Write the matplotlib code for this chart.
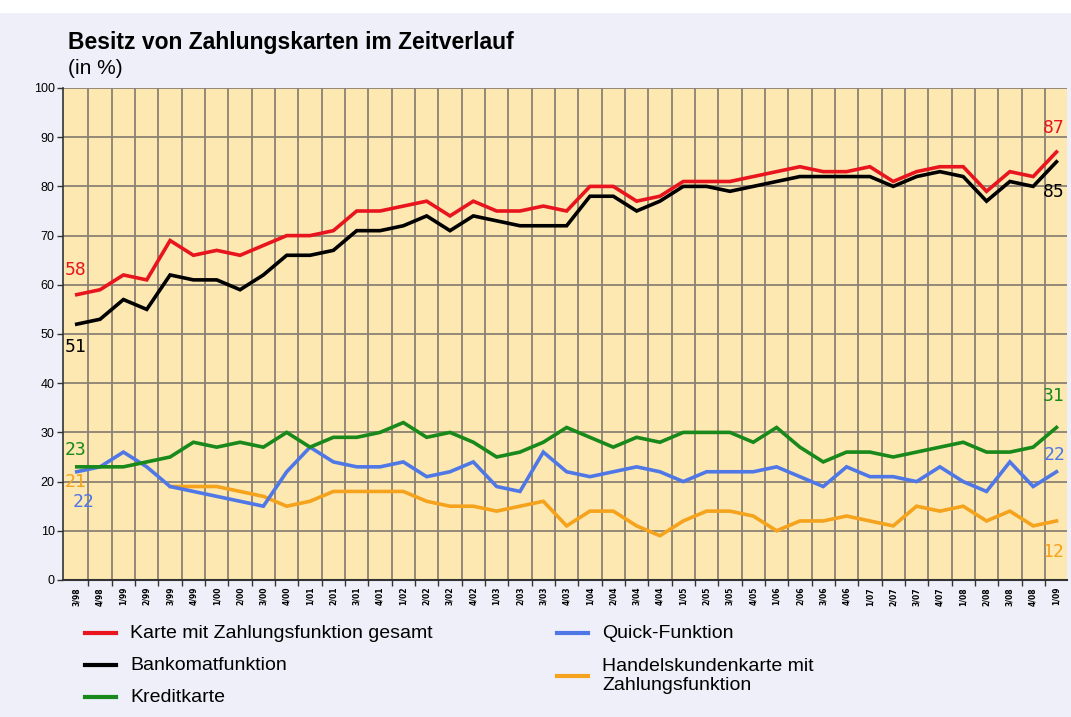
import matplotlib
matplotlib.use("Agg")
import matplotlib.pyplot as plt
import numpy as np
from matplotlib.lines import Line2D
from matplotlib.patches import Rectangle

quarters = ["3/98", "4/98", "1/99", "2/99", "3/99", "4/99", "1/00", "2/00", "3/00", "4/00",
            "1/01", "2/01", "3/01", "4/01", "1/02", "2/02", "3/02", "4/02", "1/03", "2/03",
            "3/03", "4/03", "1/04", "2/04", "3/04", "4/04", "1/05", "2/05", "3/05", "4/05",
            "1/06", "2/06", "3/06", "4/06", "1/07", "2/07", "3/07", "4/07", "1/08", "2/08",
            "3/08", "4/08", "1/09"]

karte_gesamt = [58, 59, 62, 61, 69, 66, 67, 66, 68, 70, 70, 71, 75, 75, 76, 77, 74, 77, 75, 75,
                76, 75, 80, 80, 77, 78, 81, 81, 81, 82, 83, 84, 83, 83, 84, 81, 83, 84, 84, 79,
                83, 82, 87]
bankomat = [52, 53, 57, 55, 62, 61, 61, 59, 62, 66, 66, 67, 71, 71, 72, 74, 71, 74, 73, 72,
            72, 72, 78, 78, 75, 77, 80, 80, 79, 80, 81, 82, 82, 82, 82, 80, 82, 83, 82, 77,
            81, 80, 85]
kreditkarte = [23, 23, 23, 24, 25, 28, 27, 28, 27, 30, 27, 29, 29, 30, 32, 29, 30, 28, 25, 26,
               28, 31, 29, 27, 29, 28, 30, 30, 30, 28, 31, 27, 24, 26, 26, 25, 26, 27, 28, 26,
               26, 27, 31]
quick = [22, 23, 26, 23, 19, 18, 17, 16, 15, 22, 27, 24, 23, 23, 24, 21, 22, 24, 19, 18,
         26, 22, 21, 22, 23, 22, 20, 22, 22, 22, 23, 21, 19, 23, 21, 21, 20, 23, 20, 18,
         24, 19, 22]
handel = [21, None, None, None, 19, 19, 19, 18, 17, 15, 16, 18, 18, 18, 18, 16, 15, 15, 14, 15,
          16, 11, 14, 14, 11, 9, 12, 14, 14, 13, 10, 12, 12, 13, 12, 11, 15, 14, 15, 12,
          14, 11, 12]

series_names = ["Karte mit Zahlungsfunktion gesamt", "Bankomatfunktion", "Kreditkarte",
                "Quick-Funktion", "Handelskundenkarte mit\nZahlungsfunktion"]
colors = ["#E8141E", "#000000", "#18891A", "#4F78E6", "#F5A21C"]

W, H = 1071, 717
fig = plt.figure(figsize=(W / 100, H / 100), dpi=100, facecolor="#EFEFF9")
fig.patches.append(Rectangle((0, 1 - 13 / H), 1, 13 / H, transform=fig.transFigure,
                             facecolor="white", edgecolor="none", zorder=0))

ax = fig.add_axes([63 / W, 1 - 580 / H, (1067 - 63) / W, (580 - 88) / H])
ax.set_facecolor("#FDE8B2")

x = np.arange(len(quarters))
data = [karte_gesamt, bankomat, kreditkarte, quick, handel]
draw_order = [4, 3, 2, 1, 0]
for k in draw_order:
    y = np.array([np.nan if v is None else v for v in data[k]], dtype=float)
    ax.plot(x, y, color=colors[k], lw=2.6, solid_joinstyle="miter", zorder=3 + (4 - k))

ax.set_xlim(-0.59, 42.45)
ax.set_ylim(0, 100)
ax.set_yticks(np.arange(0, 101, 10))
ax.set_xticks(x[:-1] + 0.5)
ax.set_xticklabels([])
ax.set_xticks(x, minor=True)
ax.set_xticklabels(quarters, minor=True, rotation=90, fontsize=5.5, fontweight="bold",
                   family="DejaVu Sans")
ax.tick_params(axis="x", which="minor", length=0, pad=5)
ax.tick_params(axis="x", which="major", length=4, width=1, color="#333333", direction="out")
ax.tick_params(axis="y", length=4, width=1, color="#333333", labelsize=9, pad=2)
for lab in ax.get_yticklabels():
    lab.set_family("Liberation Sans")

ax.grid(True, which="major", color="#8A8272", lw=1.3)
ax.set_axisbelow(True)
for s in ["top", "right"]:
    ax.spines[s].set_visible(False)
ax.spines["left"].set_color("#333333")
ax.spines["bottom"].set_color("#333333")
ax.spines["left"].set_linewidth(1.2)
ax.spines["bottom"].set_linewidth(1.5)

lab_font = dict(family="DejaVu Sans Mono", fontsize=13, ha="center", va="center", zorder=10)
ax.text(-0.07, 63.0, "58", color=colors[0], **lab_font)
ax.text(-0.07, 47.4, "51", color=colors[1], **lab_font)
ax.text(-0.07, 26.4, "23", color=colors[2], **lab_font)
ax.text(-0.07, 19.9, "21", color=colors[4], **lab_font)
ax.text(0.27, 15.9, "22", color=colors[3], **lab_font)
ax.text(41.9, 91.9, "87", color=colors[0], **lab_font)
ax.text(41.9, 78.9, "85", color=colors[1], **lab_font)
ax.text(41.9, 37.4, "31", color=colors[2], **lab_font)
ax.text(41.9, 25.4, "22", color=colors[3], **lab_font)
ax.text(41.9, 5.7, "12", color=colors[4], **lab_font)

fig.text(68 / W, 1 - 43 / H, "Besitz von Zahlungskarten im Zeitverlauf", fontsize=16.5,
         fontweight="bold", family="Liberation Sans", va="center", ha="left")
fig.text(68 / W, 1 - 68 / H, "(in %)", fontsize=15, family="Liberation Sans",
         va="center", ha="left")

# legend
leg_items = [(85, 633, 0), (85, 665, 1), (85, 697, 2), (557, 633, 3), (557, 676, 4)]
for lx, ly, k in leg_items:
    fig.add_artist(Line2D([lx / W, (lx + 31) / W], [1 - ly / H, 1 - ly / H],
                          transform=fig.transFigure, color=colors[k], lw=3))
    fig.text((lx + 45) / W, 1 - ly / H, series_names[k], fontsize=14,
             family="Liberation Sans", va="center", ha="left", linespacing=1.15)

fig.savefig("out.png", dpi=100, facecolor=fig.get_facecolor())
